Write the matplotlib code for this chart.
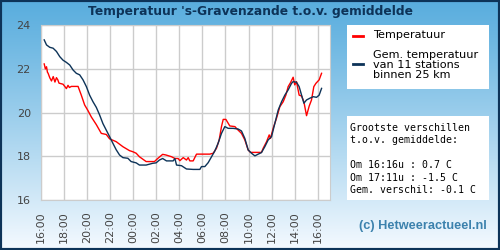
import numpy as np
import matplotlib.pyplot as plt
from matplotlib.patches import Rectangle

# hours since 16:00 the day before
red_h = [0.32, 0.42, 0.52, 0.6, 0.66, 0.8, 0.95, 1.1, 1.25, 1.38, 1.5, 1.6, 1.95, 2.1, 2.24, 2.38, 2.5, 2.67,
         3.25, 3.53, 3.82, 4.1, 4.4, 4.83, 5.26, 5.69, 5.98, 6.55, 7.13, 7.7, 7.99, 8.28, 8.56, 9.14, 9.86,
         10.14, 10.57, 10.86, 11.34, 11.63, 11.91, 12.06, 12.35, 12.63, 12.78, 12.92, 13.21, 13.5, 14.08,
         14.65, 14.94, 15.23, 15.46, 15.66, 15.81, 16.04, 16.38, 16.82, 17.1, 17.39, 17.68, 17.97, 18.17,
         18.69, 19.12, 19.27, 19.56, 19.79, 19.9, 20.13, 20.42, 20.71, 21.0, 21.23, 21.43, 21.63, 21.86,
         22.0, 22.15, 22.38, 22.59, 22.79, 23.02, 23.25, 23.45, 23.65, 23.83, 24.11, 24.32]
red_t = [22.23, 22.0, 22.1, 21.85, 21.8, 21.6, 21.45, 21.65, 21.4, 21.6, 21.5, 21.35, 21.3, 21.2, 21.1, 21.25,
         21.15, 21.2, 21.2, 20.8, 20.35, 20.1, 19.8, 19.45, 19.05, 19.0, 18.8, 18.67, 18.44, 18.26, 18.21,
         18.14, 17.98, 17.76, 17.76, 17.9, 18.09, 18.06, 17.98, 17.9, 17.9, 17.8, 17.94, 17.83, 17.94, 17.79,
         17.79, 18.1, 18.1, 18.1, 18.14, 18.37, 18.75, 19.36, 19.69, 19.69, 19.39, 19.36, 19.2, 19.05, 18.75,
         18.29, 18.18, 18.18, 18.18, 18.37, 18.67, 18.98, 18.82, 19.28, 19.74, 20.27, 20.5, 20.8, 21.19,
         21.37, 21.62, 21.27, 21.42, 20.8, 20.76, 20.5, 19.86, 20.3, 20.58, 21.19, 21.34, 21.5, 21.8]

blue_h = [0.32, 0.52, 0.8, 1.09, 1.38, 1.67, 1.95, 2.24, 2.53, 2.82, 3.1, 3.39, 3.68, 3.97, 4.25, 4.54, 4.83,
          5.11, 5.4, 5.69, 5.98, 6.26, 6.55, 6.84, 7.13, 7.56, 7.84, 8.28, 8.56, 9.14, 9.71, 10.0, 10.29,
          10.57, 10.9, 11.48, 11.63, 11.77, 12.2, 12.63, 13.21, 13.79, 13.93, 14.22, 14.51, 14.8, 15.08,
          15.37, 15.66, 15.95, 16.24, 16.67, 17.1, 17.39, 17.68, 17.97, 18.26, 18.55, 18.84, 19.12, 19.41,
          19.7, 19.99, 20.28, 20.57, 20.86, 21.14, 21.43, 21.72, 21.86, 22.15, 22.38, 22.59, 22.79, 23.02,
          23.31, 23.6, 23.88, 24.11, 24.32]
blue_t = [23.33, 23.1, 22.99, 22.95, 22.8, 22.56, 22.4, 22.3, 22.18, 21.95, 21.8, 21.73, 21.5, 21.19, 20.8,
          20.5, 20.24, 19.9, 19.5, 19.2, 18.9, 18.6, 18.3, 18.06, 17.94, 17.91, 17.76, 17.7, 17.6, 17.6, 17.68,
          17.7, 17.83, 17.9, 17.79, 17.79, 17.9, 17.6, 17.57, 17.42, 17.4, 17.4, 17.53, 17.53, 17.71, 17.98,
          18.24, 18.6, 19.05, 19.36, 19.28, 19.28, 19.25, 19.16, 18.82, 18.29, 18.14, 18.02, 18.1, 18.17,
          18.44, 18.75, 18.9, 19.51, 20.12, 20.5, 20.8, 21.04, 21.34, 21.42, 21.39, 21.19, 20.8, 20.43,
          20.58, 20.66, 20.73, 20.7, 20.8, 21.11]

tick_labels = ['16:00', '18:00', '20:00', '22:00', '00:00', '02:00', '04:00', '06:00',
               '08:00', '10:00', '12:00', '14:00', '16:00']
stats = "Grootste verschillen\nt.o.v. gemiddelde:\n\nOm 16:16u : 0.7 C\nOm 17:11u : -1.5 C\nGem. verschil: -0.1 C"

navy = '#0d3358'
fig = plt.figure(figsize=(5, 2.5), dpi=100)

# background gradient
bg = fig.add_axes([0, 0, 1, 1], zorder=-10)
grad = np.linspace(0, 1, 256).reshape(-1, 1)
top = np.array([0.35, 0.68, 0.87])
bot = np.array([0.96, 0.98, 1.0])
img = top + (bot - top) * grad[:, :, None] ** 1.1
bg.imshow(img, aspect='auto', extent=[0, 1, 0, 1])
bg.add_patch(Rectangle((0, 0), 1, 1, fill=False, edgecolor=navy, lw=3, transform=bg.transAxes))
bg.set_axis_off()

fig.text(0.5, 0.952, "Temperatuur 's-Gravenzande t.o.v. gemiddelde", ha='center', va='center',
         fontsize=8.8, fontweight='bold', color=navy)

ax = fig.add_axes([0.081, 0.2, 0.579, 0.699])
ax.plot(red_h, red_t, color='#ff0000', lw=1)
ax.plot(blue_h, blue_t, color=navy, lw=1)
ax.set_xlim(0, 25.05)
ax.set_ylim(16, 24)
ax.set_xticks(np.arange(0, 25, 2))
ax.set_xticklabels(tick_labels, rotation=90)
ax.set_yticks([16, 18, 20, 22, 24])
ax.grid(True, color='#cccccc', lw=1)
ax.tick_params(length=0, labelsize=8, colors='#444444')
ax.tick_params(axis='x', pad=8)
ax.tick_params(axis='y', pad=7)
for s in ax.spines.values():
    s.set_color('#cccccc')

# legend box
fig.patches.append(Rectangle((347 / 500, 1 - 89 / 250), 142 / 500, 64 / 250, transform=fig.transFigure,
                             facecolor='white', edgecolor='none'))
fig.lines.append(plt.Line2D([353 / 500, 363 / 500], [1 - 36 / 250] * 2, transform=fig.transFigure,
                            color='#ff0000', lw=2))
fig.text(373 / 500, 1 - 35 / 250, 'Temperatuur', va='center', fontsize=8.1, color='black')
fig.lines.append(plt.Line2D([353 / 500, 363 / 500], [1 - 64 / 250] * 2, transform=fig.transFigure,
                            color=navy, lw=2))
fig.text(373 / 500, 1 - 65 / 250, 'Gem. temperatuur\nvan 11 stations\nbinnen 25 km', va='center',
         fontsize=8.1, color='black', linespacing=0.95)

# stats box
fig.patches.append(Rectangle((347 / 500, 1 - 200 / 250), 142 / 500, 84 / 250, transform=fig.transFigure,
                             facecolor='white', edgecolor='none'))
fig.text(350 / 500, 1 - 159 / 250, stats, va='center', fontsize=7.1, family='DejaVu Sans Mono',
         color='black', linespacing=1.3)

fig.text(423 / 500, 1 - 226 / 250, '(c) Hetweeractueel.nl', ha='center', va='center', fontsize=9.2,
         fontweight='bold', family='Liberation Sans', color='#3c82ad')

fig.savefig('out.png', dpi=100)
